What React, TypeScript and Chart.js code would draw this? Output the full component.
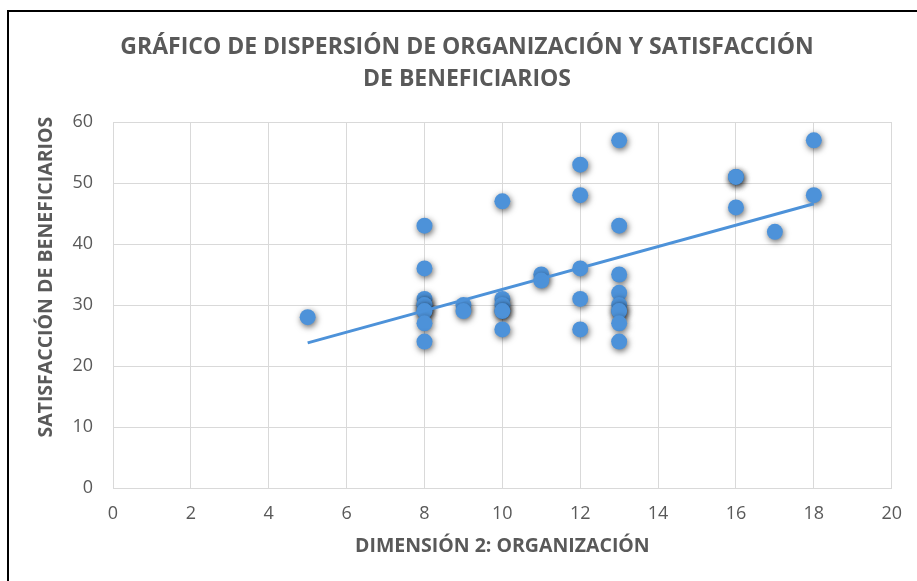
import React, { useEffect, useRef } from "react";
import { Chart, registerables } from "chart.js";

Chart.register(...registerables);

const chartTitle = [
  "GRÁFICO DE DISPERSIÓN DE ORGANIZACIÓN Y SATISFACCIÓN",
  "DE BENEFICIARIOS",
];
const xAxisTitle = "DIMENSIÓN 2: ORGANIZACIÓN";
const yAxisTitle = "SATISFACCIÓN DE BENEFICIARIOS";

// Dimension 2 (organización) score for each respondent
const organizacion = [
  5,
  8, 8, 8, 8, 8, 8, 8, 8, 8,
  9, 9,
  10, 10, 10, 10, 10, 10,
  11, 11,
  12, 12, 12, 12, 12,
  13, 13, 13, 13, 13, 13, 13, 13, 13,
  16, 16, 16,
  17,
  18, 18,
];
// Satisfacción de beneficiarios for each respondent
const satisfaccion = [
  28,
  43, 36, 31, 30, 30, 29, 29, 27, 24,
  30, 29,
  47, 31, 30, 29, 29, 26,
  35, 34,
  53, 48, 36, 31, 26,
  57, 43, 35, 32, 30, 29, 29, 27, 24,
  51, 51, 46,
  42,
  57, 48,
];

// Linear trend line end points
const trendX = [5, 18];
const trendY = [23.8, 46.6];

const xTicks = { min: 0, max: 20, step: 2 };
const yTicks = { min: 0, max: 60, step: 10 };

const BLUE = "#4d92d9";
const GRAY_TEXT = "#595959";
const GRID = "#d9d9d9";

const shadowPlugin = {
  id: "pointShadow",
  beforeDatasetDraw(chart: any, args: any) {
    const ds = chart.data.datasets[args.index];
    if (!ds.shadow) return;
    const ctx = chart.ctx;
    ctx.save();
    ctx.shadowColor = "rgba(0,0,0,0.6)";
    ctx.shadowBlur = 6;
    ctx.shadowOffsetX = 1;
    ctx.shadowOffsetY = 2;
  },
  afterDatasetDraw(chart: any, args: any) {
    const ds = chart.data.datasets[args.index];
    if (!ds.shadow) return;
    chart.ctx.restore();
  },
};

export default function App() {
  const ref = useRef<HTMLCanvasElement | null>(null);

  useEffect(() => {
    if (!ref.current) return;
    Chart.defaults.font.family = "'Open Sans', sans-serif";
    const points = organizacion.map((x, i) => ({ x, y: satisfaccion[i] }));
    const trend = trendX.map((x, i) => ({ x, y: trendY[i] }));
    const chart = new Chart(ref.current, {
      type: "scatter",
      data: {
        datasets: [
          {
            label: "Tendencia",
            data: trend,
            showLine: true,
            borderColor: BLUE,
            borderWidth: 3,
            pointRadius: 0,
            pointHoverRadius: 0,
            order: 0,
          } as any,
          {
            label: "Satisfacción",
            data: points,
            backgroundColor: BLUE,
            borderColor: BLUE,
            borderWidth: 0,
            pointRadius: 8,
            pointHoverRadius: 8,
            shadow: true,
            order: 1,
          } as any,
        ],
      },
      options: {
        animation: false,
        responsive: false,
        layout: { padding: { left: 17, right: 0, top: 0, bottom: 0 } },
        plugins: {
          legend: { display: false },
          tooltip: { enabled: false },
          title: {
            display: true,
            text: chartTitle,
            color: GRAY_TEXT,
            font: { size: 23, weight: "bold", lineHeight: 1.37 },
            padding: { top: 32, bottom: 27 },
          },
        },
        scales: {
          x: {
            type: "linear",
            min: xTicks.min,
            max: xTicks.max,
            ticks: {
              stepSize: xTicks.step,
              color: GRAY_TEXT,
              font: { size: 18 },
              padding: 15,
            },
            grid: { color: GRID, drawTicks: false },
            border: { color: GRID },
            title: {
              display: true,
              text: xAxisTitle,
              color: GRAY_TEXT,
              font: { size: 19.5, weight: "bold" },
              padding: { top: 0, bottom: 23 },
            },
            afterFit: (s: any) => {
              s.height = 93;
            },
          },
          y: {
            type: "linear",
            min: yTicks.min,
            max: yTicks.max,
            ticks: {
              stepSize: yTicks.step,
              color: GRAY_TEXT,
              font: { size: 18 },
              padding: 20,
            },
            grid: { color: GRID, drawTicks: false },
            border: { color: GRID },
            title: {
              display: true,
              text: "           " + yAxisTitle,
              color: GRAY_TEXT,
              font: { size: 19.5, weight: "bold" },
              padding: { top: 18, bottom: 0 },
            },
            afterFit: (s: any) => {
              s.width = 96;
            },
          },
          yr: {
            type: "linear",
            position: "right",
            display: true,
            ticks: { display: false },
            grid: { display: false },
            border: { display: false },
            afterFit: (s: any) => {
              s.width = 24;
            },
          },
        },
      } as any,
      plugins: [shadowPlugin],
    });
    return () => chart.destroy();
  }, []);

  return (
    <div
      style={{
        position: "fixed",
        left: 0,
        top: 0,
        width: 917,
        height: 581,
        overflow: "hidden",
        background: "#fff",
      }}
    >
      <div
        style={{
          position: "absolute",
          left: 7,
          top: 10,
          width: 940,
          height: 600,
          borderTop: "2px solid #000",
          borderLeft: "2px solid #000",
        }}
      />
      <canvas
        ref={ref}
        width={917}
        height={581}
        style={{ position: "absolute", left: 0, top: 0, width: 917, height: 581 }}
      />
    </div>
  );
}
